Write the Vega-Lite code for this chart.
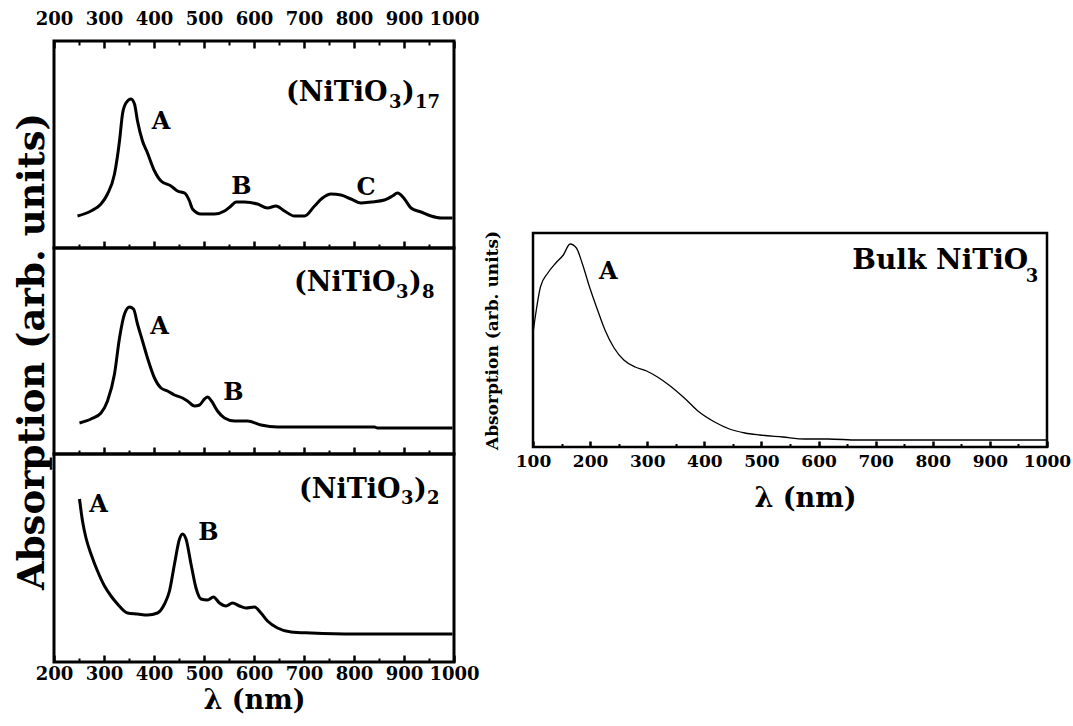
{
  "$schema": "https://vega.github.io/schema/vega-lite/v6.json",
  "autosize": {"type": "pad"},
  "padding": {"left": 11, "top": 8, "right": 0, "bottom": 0},
  "background": "white",
  "config": {
    "view": {"stroke": "black", "strokeWidth": 3},
    "axis": {"grid": false, "domain": false, "format": "d", "labelFont": "DejaVu Serif", "labelFontWeight": "bold", "labelColor": "black", "titleFont": "DejaVu Serif", "titleFontWeight": "bold", "titleColor": "black", "tickColor": "black", "labelFlush": false, "labelOverlap": false, "labelBound": false},
    "text": {"font": "DejaVu Serif", "fontWeight": "bold", "color": "black"},
    "line": {"color": "black"}
  },
  "datasets": {
    "p17": [
      {"wl":247,"a":32},{"wl":274,"a":37},{"wl":294,"a":44},{"wl":307,"a":54},{"wl":321,"a":74},{"wl":331,"a":107},{"wl":337,"a":134},{"wl":344,"a":145},{"wl":354,"a":149},{"wl":361,"a":144},{"wl":367,"a":127},{"wl":377,"a":107},{"wl":387,"a":95},{"wl":401,"a":77},{"wl":414,"a":67},{"wl":434,"a":62},{"wl":447,"a":57},{"wl":461,"a":55},{"wl":471,"a":47},{"wl":477,"a":39},{"wl":494,"a":34},{"wl":521,"a":34},{"wl":541,"a":37},{"wl":554,"a":42},{"wl":564,"a":46},{"wl":581,"a":46},{"wl":607,"a":44},{"wl":627,"a":40},{"wl":644,"a":42},{"wl":661,"a":37},{"wl":681,"a":32},{"wl":701,"a":32},{"wl":721,"a":42},{"wl":737,"a":50},{"wl":754,"a":54},{"wl":774,"a":53},{"wl":794,"a":49},{"wl":814,"a":45},{"wl":834,"a":46},{"wl":861,"a":48},{"wl":877,"a":52},{"wl":887,"a":55},{"wl":901,"a":49},{"wl":914,"a":40},{"wl":934,"a":36},{"wl":954,"a":32},{"wl":974,"a":30},{"wl":997,"a":30}
    ],
    "p8": [
      {"wl":251,"a":31},{"wl":274,"a":35},{"wl":294,"a":41},{"wl":307,"a":53},{"wl":321,"a":80},{"wl":331,"a":116},{"wl":341,"a":140},{"wl":351,"a":147},{"wl":359,"a":145},{"wl":367,"a":130},{"wl":377,"a":113},{"wl":387,"a":96},{"wl":401,"a":76},{"wl":414,"a":66},{"wl":427,"a":63},{"wl":441,"a":59},{"wl":457,"a":56},{"wl":467,"a":53},{"wl":481,"a":48},{"wl":491,"a":49},{"wl":501,"a":55},{"wl":507,"a":57},{"wl":515,"a":53},{"wl":527,"a":43},{"wl":541,"a":36},{"wl":561,"a":33},{"wl":587,"a":33},{"wl":614,"a":29},{"wl":647,"a":27},{"wl":761,"a":27},{"wl":841,"a":27},{"wl":847,"a":26},{"wl":997,"a":26}
    ],
    "p2": [
      {"wl":251,"a":163},{"wl":257,"a":141},{"wl":264,"a":124},{"wl":274,"a":108},{"wl":287,"a":91},{"wl":301,"a":76},{"wl":314,"a":66},{"wl":327,"a":58},{"wl":347,"a":49},{"wl":367,"a":48},{"wl":387,"a":47},{"wl":407,"a":49},{"wl":421,"a":58},{"wl":431,"a":71},{"wl":441,"a":98},{"wl":451,"a":123},{"wl":457,"a":128},{"wl":464,"a":123},{"wl":474,"a":98},{"wl":484,"a":74},{"wl":494,"a":63},{"wl":507,"a":62},{"wl":519,"a":65},{"wl":531,"a":59},{"wl":544,"a":56},{"wl":557,"a":59},{"wl":571,"a":56},{"wl":584,"a":54},{"wl":601,"a":55},{"wl":614,"a":49},{"wl":627,"a":41},{"wl":647,"a":34},{"wl":674,"a":30},{"wl":714,"a":29},{"wl":801,"a":28},{"wl":997,"a":28}
    ],
    "bulk": [
      {"wl":100,"a":114},{"wl":105,"a":134},{"wl":113,"a":160},{"wl":126,"a":174},{"wl":140,"a":184},{"wl":153,"a":192},{"wl":165,"a":203},{"wl":176,"a":199},{"wl":186,"a":184},{"wl":199,"a":160},{"wl":213,"a":137},{"wl":226,"a":117},{"wl":242,"a":99},{"wl":259,"a":87},{"wl":279,"a":80},{"wl":299,"a":76},{"wl":318,"a":70},{"wl":338,"a":62},{"wl":365,"a":49},{"wl":391,"a":35},{"wl":418,"a":25},{"wl":444,"a":18},{"wl":471,"a":14},{"wl":497,"a":12},{"wl":537,"a":10},{"wl":576,"a":8},{"wl":616,"a":8},{"wl":669,"a":7},{"wl":801,"a":7},{"wl":1000,"a":7}
    ]
  },
  "spacing": 0,
  "hconcat": [
    {
      "spacing": 0,
      "bounds": "flush",
      "vconcat": [
        {
          "width": 400, "height": 207,
          "resolve": {"axis": {"x": "independent"}},
          "layer": [
            {"data": {"name": "p17"}, "mark": {"type": "line", "strokeWidth": 3, "interpolate": "monotone"},
             "encoding": {"x": {"field": "wl", "type": "quantitative", "scale": {"domain": [200, 1000], "nice": false, "zero": false},
                                "axis": {"orient": "top", "values": [200,300,400,500,600,700,800,900,1000], "tickSize": -7, "tickWidth": 2.5, "labelFontSize": 18, "labelPadding": 20, "title": null}},
                          "y": {"field": "a", "type": "quantitative", "scale": {"domain": [0, 207], "nice": false}, "axis": null}}},
            {"data": {"name": "p17"}, "mark": {"type": "line", "strokeOpacity": 0},
             "encoding": {"x": {"field": "wl", "type": "quantitative", "axis": {"orient": "top", "values": [250,350,450,550,650,750,850,950], "tickSize": -4, "tickWidth": 2, "labels": false, "title": null}},
                          "y": {"field": "a", "type": "quantitative", "axis": null}}},
            {"data": {"name": "p17"}, "mark": {"type": "line", "strokeOpacity": 0},
             "encoding": {"x": {"field": "wl", "type": "quantitative", "axis": {"orient": "bottom", "values": [300,400,500,600,700,800,900], "tickSize": -7, "tickWidth": 2.5, "labels": false, "title": null}},
                          "y": {"field": "a", "type": "quantitative", "axis": null}}},
            {"data": {"name": "p17"}, "mark": {"type": "line", "strokeOpacity": 0},
             "encoding": {"x": {"field": "wl", "type": "quantitative", "axis": {"orient": "bottom", "values": [250,350,450,550,650,750,850,950], "tickSize": -4, "tickWidth": 2, "labels": false, "title": null}},
                          "y": {"field": "a", "type": "quantitative", "axis": null}}},
            {"data": {"values": [{"wl": 414, "a": 126, "t": "A"}, {"wl": 575, "a": 61, "t": "B"}, {"wl": 824, "a": 60, "t": "C"}]},
             "mark": {"type": "text", "fontSize": 24, "baseline": "middle", "align": "center"},
             "encoding": {"x": {"field": "wl", "type": "quantitative", "axis": null}, "y": {"field": "a", "type": "quantitative", "axis": null}, "text": {"field": "t"}}},
            {"data": {"values": [{"wl": 664, "a": 147, "t": "(NiTiO"}, {"wl": 896, "a": 147, "t": ")"}]},
             "mark": {"type": "text", "fontSize": 27, "baseline": "alphabetic", "align": "left"},
             "encoding": {"x": {"field": "wl", "type": "quantitative", "axis": null}, "y": {"field": "a", "type": "quantitative", "axis": null}, "text": {"field": "t"}}},
            {"data": {"values": [{"wl": 870, "a": 140, "t": "3"}, {"wl": 922, "a": 140, "t": "17"}]},
             "mark": {"type": "text", "fontSize": 18, "baseline": "alphabetic", "align": "left"},
             "encoding": {"x": {"field": "wl", "type": "quantitative", "axis": null}, "y": {"field": "a", "type": "quantitative", "axis": null}, "text": {"field": "t"}}}
          ]
        },
        {
          "width": 400, "height": 206,
          "resolve": {"axis": {"x": "independent"}},
          "layer": [
            {"data": {"name": "p8"}, "mark": {"type": "line", "strokeWidth": 3, "interpolate": "monotone"},
             "encoding": {"x": {"field": "wl", "type": "quantitative", "scale": {"domain": [200, 1000], "nice": false, "zero": false},
                                "axis": {"orient": "bottom", "values": [300,400,500,600,700,800,900], "tickSize": -7, "tickWidth": 2.5, "labels": false, "title": null}},
                          "y": {"field": "a", "type": "quantitative", "scale": {"domain": [0, 206], "nice": false},
                                "axis": {"orient": "left", "title": "Absorption (arb. units)", "titleFontSize": 37, "titlePadding": 3, "labels": false, "ticks": false}}}},
            {"data": {"name": "p8"}, "mark": {"type": "line", "strokeOpacity": 0},
             "encoding": {"x": {"field": "wl", "type": "quantitative", "axis": {"orient": "bottom", "values": [250,350,450,550,650,750,850,950], "tickSize": -4, "tickWidth": 2, "labels": false, "title": null}},
                          "y": {"field": "a", "type": "quantitative"}}},
            {"data": {"values": [{"wl": 411, "a": 127, "t": "A"}, {"wl": 559, "a": 61, "t": "B"}]},
             "mark": {"type": "text", "fontSize": 24, "baseline": "middle", "align": "center"},
             "encoding": {"x": {"field": "wl", "type": "quantitative", "axis": null}, "y": {"field": "a", "type": "quantitative"}, "text": {"field": "t"}}},
            {"data": {"values": [{"wl": 680, "a": 163, "t": "(NiTiO"}, {"wl": 910, "a": 163, "t": ")"}]},
             "mark": {"type": "text", "fontSize": 27, "baseline": "alphabetic", "align": "left"},
             "encoding": {"x": {"field": "wl", "type": "quantitative", "axis": null}, "y": {"field": "a", "type": "quantitative"}, "text": {"field": "t"}}},
            {"data": {"values": [{"wl": 884, "a": 156, "t": "3"}, {"wl": 936, "a": 156, "t": "8"}]},
             "mark": {"type": "text", "fontSize": 18, "baseline": "alphabetic", "align": "left"},
             "encoding": {"x": {"field": "wl", "type": "quantitative", "axis": null}, "y": {"field": "a", "type": "quantitative"}, "text": {"field": "t"}}}
          ]
        },
        {
          "width": 400, "height": 208,
          "resolve": {"axis": {"x": "independent"}},
          "layer": [
            {"data": {"name": "p2"}, "mark": {"type": "line", "strokeWidth": 3, "interpolate": "monotone"},
             "encoding": {"x": {"field": "wl", "type": "quantitative", "scale": {"domain": [200, 1000], "nice": false, "zero": false},
                                "axis": {"orient": "bottom", "values": [200,300,400,500,600,700,800,900,1000], "tickSize": -7, "tickWidth": 2.5, "labelFontSize": 18, "labelPadding": 10, "title": "λ (nm)", "titleFontSize": 27, "titlePadding": 4}},
                          "y": {"field": "a", "type": "quantitative", "scale": {"domain": [0, 208], "nice": false}, "axis": null}}},
            {"data": {"name": "p2"}, "mark": {"type": "line", "strokeOpacity": 0},
             "encoding": {"x": {"field": "wl", "type": "quantitative", "axis": {"orient": "bottom", "values": [250,350,450,550,650,750,850,950], "tickSize": -4, "tickWidth": 2, "labels": false, "title": null}},
                          "y": {"field": "a", "type": "quantitative", "axis": null}}},
            {"data": {"values": [{"wl": 289, "a": 157, "t": "A"}, {"wl": 509, "a": 129, "t": "B"}]},
             "mark": {"type": "text", "fontSize": 24, "baseline": "middle", "align": "center"},
             "encoding": {"x": {"field": "wl", "type": "quantitative", "axis": null}, "y": {"field": "a", "type": "quantitative", "axis": null}, "text": {"field": "t"}}},
            {"data": {"values": [{"wl": 690, "a": 164, "t": "(NiTiO"}, {"wl": 920, "a": 164, "t": ")"}]},
             "mark": {"type": "text", "fontSize": 27, "baseline": "alphabetic", "align": "left"},
             "encoding": {"x": {"field": "wl", "type": "quantitative", "axis": null}, "y": {"field": "a", "type": "quantitative", "axis": null}, "text": {"field": "t"}}},
            {"data": {"values": [{"wl": 894, "a": 158, "t": "3"}, {"wl": 946, "a": 158, "t": "2"}]},
             "mark": {"type": "text", "fontSize": 18, "baseline": "alphabetic", "align": "left"},
             "encoding": {"x": {"field": "wl", "type": "quantitative", "axis": null}, "y": {"field": "a", "type": "quantitative", "axis": null}, "text": {"field": "t"}}}
          ]
        }
      ]
    },
    {
      "spacing": 0,
      "bounds": "flush",
      "vconcat": [
        {"width": 514, "height": 192, "view": {"stroke": null}, "data": {"values": [{"t": ""}]}, "mark": {"type": "text"}, "encoding": {}},
        {
          "width": 514, "height": 214,
          "view": {"stroke": "black", "strokeWidth": 2.5},
          "resolve": {"axis": {"x": "independent"}},
          "layer": [
            {"data": {"name": "bulk"}, "mark": {"type": "line", "strokeWidth": 1.3, "interpolate": "monotone"},
             "encoding": {"x": {"field": "wl", "type": "quantitative", "scale": {"domain": [100, 1000], "nice": false, "zero": false},
                                "axis": {"orient": "bottom", "values": [100,200,300,400,500,600,700,800,900,1000], "tickSize": -6, "tickWidth": 2.5, "labelFontSize": 17, "labelPadding": 12, "title": "λ (nm)", "titleFontSize": 27, "titlePadding": 16, "titleX": 272}},
                          "y": {"field": "a", "type": "quantitative", "scale": {"domain": [0, 214], "nice": false},
                                "axis": {"orient": "left", "title": "Absorption (arb. units)", "titleFontSize": 17, "titlePadding": 32, "labels": false, "ticks": false}}}},
            {"data": {"name": "bulk"}, "mark": {"type": "line", "strokeOpacity": 0},
             "encoding": {"x": {"field": "wl", "type": "quantitative", "axis": {"orient": "bottom", "values": [150,250,350,450,550,650,750,850,950], "tickSize": -3.5, "tickWidth": 2, "labels": false, "title": null}},
                          "y": {"field": "a", "type": "quantitative"}}},
            {"data": {"values": [{"wl": 232, "a": 175, "t": "A"}]},
             "mark": {"type": "text", "fontSize": 24, "baseline": "middle", "align": "center"},
             "encoding": {"x": {"field": "wl", "type": "quantitative", "axis": null}, "y": {"field": "a", "type": "quantitative"}, "text": {"field": "t"}}},
            {"data": {"values": [{"wl": 659, "a": 178, "t": "Bulk NiTiO"}]},
             "mark": {"type": "text", "fontSize": 28, "baseline": "alphabetic", "align": "left"},
             "encoding": {"x": {"field": "wl", "type": "quantitative", "axis": null}, "y": {"field": "a", "type": "quantitative"}, "text": {"field": "t"}}},
            {"data": {"values": [{"wl": 963, "a": 165, "t": "3"}]},
             "mark": {"type": "text", "fontSize": 18, "baseline": "alphabetic", "align": "left"},
             "encoding": {"x": {"field": "wl", "type": "quantitative", "axis": null}, "y": {"field": "a", "type": "quantitative"}, "text": {"field": "t"}}}
          ]
        }
      ]
    }
  ]
}
